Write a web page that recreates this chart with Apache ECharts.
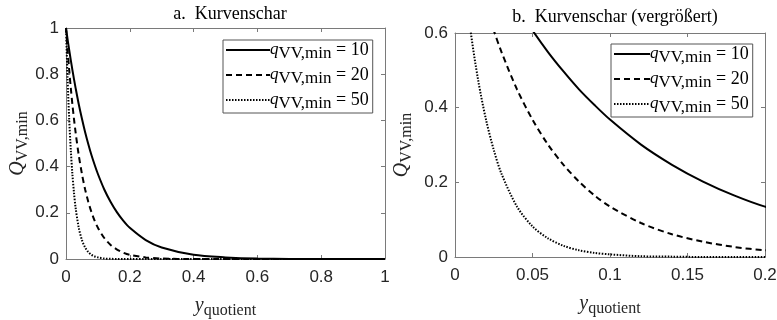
<!DOCTYPE html>
<html>
<head>
<meta charset="utf-8">
<script src="https://cdn.jsdelivr.net/npm/echarts@6/dist/echarts.min.js"></script>
<style>
  html, body { margin: 0; padding: 0; background: #fff; }
  #chart { width: 777px; height: 320px; }
</style>
</head>
<body>
<div id="chart"></div>
<script>
const yQuotient = [0, 0.005, 0.01, 0.015, 0.02, 0.025, 0.03, 0.04, 0.05, 0.06, 0.07, 0.08, 0.09, 0.1,
  0.12, 0.14, 0.16, 0.18, 0.2, 0.25, 0.3, 0.4, 0.5, 0.6, 0.8, 1];
const q10 = [1, 0.951, 0.905, 0.861, 0.819, 0.779, 0.741, 0.670, 0.607, 0.549, 0.497, 0.449, 0.407, 0.368,
  0.301, 0.247, 0.202, 0.165, 0.135, 0.082, 0.050, 0.018, 0.007, 0.002, 0, 0];
const q20 = [1, 0.905, 0.819, 0.741, 0.670, 0.607, 0.549, 0.449, 0.368, 0.301, 0.247, 0.202, 0.165, 0.135,
  0.091, 0.061, 0.041, 0.027, 0.018, 0.007, 0.002, 0, 0, 0, 0, 0];
const q50 = [1, 0.779, 0.607, 0.472, 0.368, 0.287, 0.223, 0.135, 0.082, 0.050, 0.030, 0.018, 0.011, 0.007,
  0.002, 0.001, 0, 0, 0, 0, 0, 0, 0, 0, 0, 0];
const qValues = [10, 20, 50];
const titles = ["a.  Kurvenschar", "b.  Kurvenschar (vergrößert)"];

const serif = "Liberation Serif";
const sans = "Liberation Sans";
const axisGray = "#7a7a7a";

function pairs(vals) {
  return yQuotient.map((x, i) => [x, vals[i]]);
}

const seriesVals = [q10, q20, q50];
const lineTypes = ["solid", [6, 4], [1.5, 1.5]];
const names = qValues.map(q => "{q|q}{s|VV,min}{n| = " + q + "}");

const subRich = {
  q: { fontFamily: serif, fontStyle: "italic", fontSize: 17, color: "#000" },
  s: { fontFamily: serif, fontSize: 17, color: "#000", padding: [7, 0, 0, 0] },
  n: { fontFamily: serif, fontSize: 18, color: "#000" }
};

const nameRich = {
  y: { fontFamily: serif, fontStyle: "italic", fontSize: 20, color: "#262626" },
  s: { fontFamily: serif, fontSize: 16, color: "#262626", padding: [10, 0, 0, 0] }
};

function mainX(grid, max, interval) {
  return {
    type: "value", gridIndex: grid, min: 0, max: max, interval: interval,
    name: "{y|y}{s|quotient}", nameLocation: "middle", nameGap: 34,
    nameTextStyle: { rich: nameRich },
    axisLine: { show: true, lineStyle: { color: axisGray } },
    axisTick: { show: true, inside: true, length: 4, lineStyle: { color: axisGray } },
    axisLabel: { color: "#262626", fontFamily: sans, fontSize: 17, margin: 10 },
    splitLine: { show: false }
  };
}
function mainY(grid, max, interval, gap) {
  return {
    type: "value", gridIndex: grid, min: 0, max: max, interval: interval,
    name: "{y|Q}{s|VV,min}", nameLocation: "middle", nameGap: gap, nameRotate: 90,
    nameTextStyle: { rich: nameRich },
    axisLine: { show: true, lineStyle: { color: axisGray } },
    axisTick: { show: true, inside: true, length: 4, lineStyle: { color: axisGray } },
    axisLabel: { color: "#262626", fontFamily: sans, fontSize: 17, margin: 7 },
    splitLine: { show: false }
  };
}
function boxAxis(grid, max, interval, pos) {
  return {
    type: "value", gridIndex: grid, min: 0, max: max, interval: interval, position: pos,
    axisLine: { show: true, onZero: false, lineStyle: { color: axisGray } },
    axisTick: { show: true, inside: true, length: 4, lineStyle: { color: axisGray } },
    axisLabel: { show: false },
    splitLine: { show: false }
  };
}

const series = [];
[0, 1].forEach(g => {
  seriesVals.forEach((vals, i) => {
    series.push({
      name: names[i],
      type: "line",
      xAxisIndex: g, yAxisIndex: g,
      data: pairs(vals),
      smooth: 0.3,
      symbol: "none",
      clip: true,
      lineStyle: { color: "#000", width: 2, type: lineTypes[i] },
      itemStyle: { color: "#000" }
    });
  });
});

function legendAt(left, top, w) {
  return {
    left: left, top: top, orient: "vertical",
    data: names,
    itemWidth: w, itemHeight: 14, itemGap: 4,
    borderColor: "#555", borderWidth: 1, backgroundColor: "#fff",
    padding: [1, 4, 1, 2],
    itemStyle: { opacity: 0 },
    textStyle: { rich: subRich, padding: [0, 0, 0, -5] },
    selectedMode: false
  };
}

const chart = echarts.init(document.getElementById("chart"));
chart.setOption({
  animation: false,
  title: [
    { text: titles[0], left: 225, top: 0, textAlign: "center",
      textStyle: { fontFamily: serif, fontSize: 18, fontWeight: "normal", color: "#000" } },
    { text: titles[1], left: 610, top: 3, textAlign: "center",
      textStyle: { fontFamily: serif, fontSize: 18, fontWeight: "normal", color: "#000" } }
  ],
  grid: [
    { left: 66, top: 28, width: 319, height: 231, outerBoundsMode: "none", containLabel: false },
    { left: 455, top: 33, width: 310, height: 224, outerBoundsMode: "none", containLabel: false }
  ],
  xAxis: [
    mainX(0, 1, 0.2), mainX(1, 0.2, 0.05),
    boxAxis(0, 1, 0.2, "top"), boxAxis(1, 0.2, 0.05, "top")
  ],
  yAxis: [
    mainY(0, 1, 0.2, 35), mainY(1, 0.6, 0.2, 40),
    boxAxis(0, 1, 0.2, "right"), boxAxis(1, 0.6, 0.2, "right")
  ],
  legend: [legendAt(223, 40, 44), legendAt(611, 44, 36)],
  series: series
});
</script>
</body>
</html>
